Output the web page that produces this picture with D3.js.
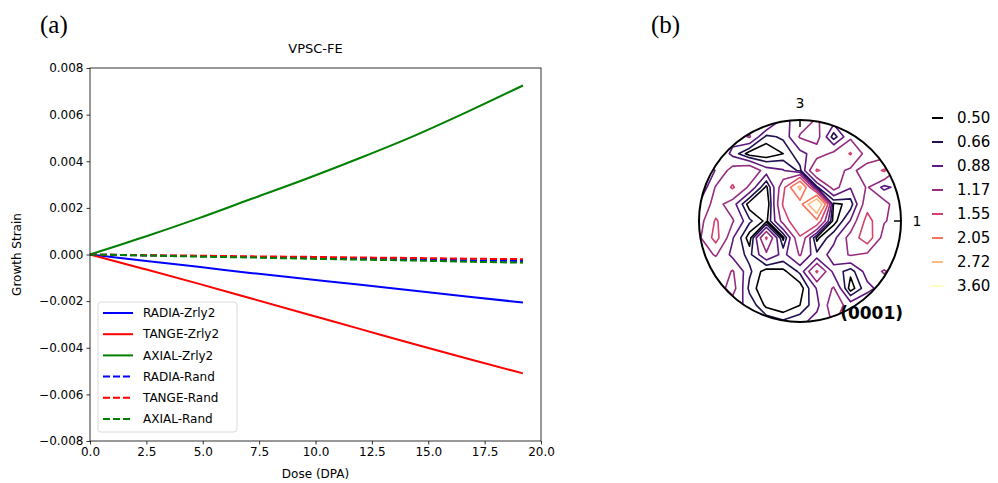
<!DOCTYPE html>
<html>
<head>
<meta charset="utf-8">
<title>VPSC-FE growth strain</title>
<script src="https://cdn.jsdelivr.net/npm/d3@7"></script>
<style>
    body { margin: 0; background: #fff; }
    text { font-family: "DejaVu Sans", sans-serif; fill: #000; }
    .axis path, .axis line { stroke: #000; stroke-width: 0.8; }
    .axis text { font-size: 12px; }
    .panel { font-family: "Liberation Serif", serif; font-size: 25px; }
</style>
</head>
<body>
<svg id="fig" width="998" height="483"></svg>
<script>
// ---- panel (a) data ----
var dose = [0, 2.4, 4.8, 7.2, 9.6, 12.0, 14.4, 16.8, 19.2];
var radiaZrly2 = [0, -0.00027, -0.00053, -0.00080, -0.00105, -0.00130, -0.00156, -0.00181, -0.00206];
var tangeZrly2 = [0, -0.00062, -0.00125, -0.00190, -0.00255, -0.00320, -0.00385, -0.00448, -0.00510];
var axialZrly2 = [0, 0.00075, 0.00155, 0.00240, 0.00325, 0.00415, 0.00510, 0.00615, 0.00725];
var radiaRand = [0, -0.00004, -0.00007, -0.00011, -0.00014, -0.00018, -0.00021, -0.00025, -0.00028];
var tangeRand = [0, -0.00003, -0.00005, -0.00008, -0.00010, -0.00013, -0.00015, -0.00018, -0.00020];
var axialRand = [0, -0.00004, -0.00009, -0.00013, -0.00018, -0.00022, -0.00026, -0.00031, -0.00035];
var seriesNames = ["RADIA-Zrly2", "TANGE-Zrly2", "AXIAL-Zrly2", "RADIA-Rand", "TANGE-Rand", "AXIAL-Rand"];
var xTicks = [0, 2.5, 5, 7.5, 10, 12.5, 15, 17.5, 20];
var yTicks = [-0.008, -0.006, -0.004, -0.002, 0, 0.002, 0.004, 0.006, 0.008];

// ---- panel (b) data: (0001) pole figure density on a 13x13 grid ----
var levels = [0.50, 0.66, 0.88, 1.17, 1.55, 2.05, 2.72, 3.60];
var levelLabels = ["0.50", "0.66", "0.88", "1.17", "1.55", "2.05", "2.72", "3.60"];
var density = [
    [1.0, 1.0, 1.0, 1.0, 1.3, 0.8, 1.0, 1.2, 1.0, 1.0, 1.0, 1.0, 1.0],
    [1.0, 1.0, 1.0, 1.2, 0.6, 0.7, 1.2, 1.3, 0.55, 1.1, 1.0, 1.0, 1.0],
    [1.0, 1.2, 0.8, 0.4, 0.35, 0.5, 0.8, 1.0, 1.25, 1.58, 1.0, 1.0, 1.0],
    [0.55, 0.9, 1.3, 1.5, 1.0, 0.9, 0.6, 1.6, 1.3, 1.1, 1.3, 1.6, 1.0],
    [0.6, 1.2, 1.6, 1.1, 0.45, 1.4, 2.9, 0.6, 1.3, 0.9, 1.2, 0.8, 1.0],
    [0.9, 1.3, 1.0, 0.4, 0.3, 1.6, 1.8, 3.7, 0.45, 0.55, 1.4, 1.3, 0.9],
    [1.0, 1.6, 1.2, 0.7, 0.45, 1.3, 2.0, 1.9, 0.4, 0.9, 1.7, 1.2, 1.0],
    [1.1, 1.7, 0.9, 0.4, 1.6, 0.45, 1.5, 0.45, 0.8, 1.3, 1.8, 1.0, 1.0],
    [1.0, 1.2, 0.8, 0.6, 1.1, 0.8, 1.2, 0.7, 1.0, 1.2, 1.1, 0.9, 1.0],
    [1.0, 0.9, 1.2, 0.7, 0.4, 0.45, 0.7, 1.6, 0.8, 0.55, 1.0, 1.2, 1.0],
    [1.0, 1.0, 1.3, 0.6, 0.35, 0.35, 0.4, 0.9, 1.2, 0.4, 0.8, 1.0, 1.0],
    [1.0, 1.0, 1.0, 0.8, 0.45, 0.35, 0.5, 0.8, 1.4, 1.0, 1.1, 1.0, 1.0],
    [1.0, 1.0, 1.0, 1.0, 0.8, 0.7, 0.8, 1.0, 1.2, 1.0, 1.0, 1.0, 1.0]
];

var svg = d3.select("#fig");

svg.append("text").attr("class", "panel").attr("x", 40).attr("y", 33).text("(a)");
svg.append("text").attr("class", "panel").attr("x", 651).attr("y", 33).text("(b)");

// ---------------- panel (a) ----------------
var plotL = 90, plotR = 541, plotT = 68, plotB = 441;
var x = d3.scaleLinear().domain([0, 20]).range([plotL, plotR]);
var y = d3.scaleLinear().domain([-0.008, 0.008]).range([plotB, plotT]);

svg.append("g").attr("class", "axis")
    .attr("transform", "translate(0," + plotB + ")")
    .call(d3.axisBottom(x).tickValues(xTicks).tickFormat(d3.format(".1f")).tickSize(3.5).tickPadding(3))
    .call(function(g) { g.select(".domain").remove(); });

svg.append("g").attr("class", "axis")
    .attr("transform", "translate(" + plotL + ",0)")
    .call(d3.axisLeft(y).tickValues(yTicks).tickFormat(d3.format(".3f")).tickSize(3.5).tickPadding(3))
    .call(function(g) { g.select(".domain").remove(); });

svg.append("text").attr("x", (plotL + plotR) / 2).attr("y", 53)
    .attr("text-anchor", "middle").style("font-size", "13px").text("VPSC-FE");
svg.append("text").attr("x", (plotL + plotR) / 2).attr("y", 478)
    .attr("text-anchor", "middle").style("font-size", "12px").text("Dose (DPA)");
svg.append("text").attr("transform", "translate(21," + ((plotT + plotB) / 2) + ") rotate(-90)")
    .attr("text-anchor", "middle").style("font-size", "12px").text("Growth Strain");

var series = [
    { name: seriesNames[0], values: radiaZrly2, color: "#0000ff", dash: null },
    { name: seriesNames[1], values: tangeZrly2, color: "#ff0000", dash: null },
    { name: seriesNames[2], values: axialZrly2, color: "#008000", dash: null },
    { name: seriesNames[3], values: radiaRand, color: "#0000ff", dash: "7,3" },
    { name: seriesNames[4], values: tangeRand, color: "#ff0000", dash: "7,3" },
    { name: seriesNames[5], values: axialRand, color: "#008000", dash: "7,3" }
];

var line = d3.line()
    .curve(d3.curveMonotoneX)
    .x(function(d, i) { return x(dose[i]); })
    .y(function(d) { return y(d); });

svg.append("g").selectAll("path")
    .data(series)
    .enter().append("path")
    .attr("d", function(s) { return line(s.values); })
    .attr("fill", "none")
    .attr("stroke", function(s) { return s.color; })
    .attr("stroke-width", 2)
    .attr("stroke-dasharray", function(s) { return s.dash; });

svg.append("rect")
    .attr("x", plotL).attr("y", plotT)
    .attr("width", plotR - plotL).attr("height", plotB - plotT)
    .attr("fill", "none").attr("stroke", "#000").attr("stroke-width", 0.8);

// legend
var lg = svg.append("g").attr("transform", "translate(98,302)");
lg.append("rect").attr("width", 139).attr("height", 130).attr("rx", 3)
    .attr("fill", "#fff").attr("fill-opacity", 0.8)
    .attr("stroke", "#d0d0d0").attr("stroke-width", 0.8);
var item = lg.selectAll("g.item").data(series).enter().append("g")
    .attr("class", "item")
    .attr("transform", function(s, i) { return "translate(0," + (11 + i * 21.2) + ")"; });
item.append("line").attr("x1", 5).attr("x2", 35)
    .attr("stroke", function(s) { return s.color; })
    .attr("stroke-width", 2)
    .attr("stroke-dasharray", function(s) { return s.dash; });
item.append("text").attr("x", 45).attr("dy", "0.35em")
    .style("font-size", "12px").text(function(s) { return s.name; });

// ---------------- panel (b) ----------------
var cx = 800, cy = 221, R = 101;
var n = density.length;
var gx = d3.scaleLinear().domain([0.5, n - 0.5]).range([cx - R, cx + R]);
var gy = d3.scaleLinear().domain([0.5, n - 0.5]).range([cy - R, cy + R]);
var color = function(i) { return d3.interpolateMagma(i / (levels.length - 1)); };

svg.append("defs").append("clipPath").attr("id", "pole")
    .append("circle").attr("cx", cx).attr("cy", cy).attr("r", R);

var contours = d3.contours().size([n, n]).thresholds(levels)(d3.merge(density));
var proj = d3.geoTransform({ point: function(px, py) { this.stream.point(gx(px), gy(py)); } });
var cpath = d3.geoPath(proj);

svg.append("g").attr("clip-path", "url(#pole)")
    .selectAll("path").data(contours).enter().append("path")
    .attr("d", cpath)
    .attr("fill", "none")
    .attr("stroke", function(c, i) { return color(i); })
    .attr("stroke-width", 1.6)
    .attr("stroke-linejoin", "round");

svg.append("circle").attr("cx", cx).attr("cy", cy).attr("r", 7).attr("fill", "#fff");

svg.append("circle").attr("cx", cx).attr("cy", cy).attr("r", R)
    .attr("fill", "none").attr("stroke", "#000").attr("stroke-width", 2);
svg.append("line").attr("x1", cx).attr("x2", cx).attr("y1", cy - R).attr("y2", cy - R + 7)
    .attr("stroke", "#000").attr("stroke-width", 1.5);
svg.append("line").attr("x1", cx + R - 7).attr("x2", cx + R).attr("y1", cy).attr("y2", cy)
    .attr("stroke", "#000").attr("stroke-width", 1.5);
svg.append("text").attr("x", cx).attr("y", cy - R - 12).attr("text-anchor", "middle")
    .style("font-size", "14px").text("3");
svg.append("text").attr("x", cx + R + 16).attr("y", cy + 5).attr("text-anchor", "middle")
    .style("font-size", "14px").text("1");
svg.append("text").attr("x", 903).attr("y", 319).attr("text-anchor", "end")
    .style("font-size", "17px").style("font-weight", "bold").text("(0001)");

var cl = svg.append("g").selectAll("g").data(levels).enter().append("g")
    .attr("transform", function(d, i) { return "translate(0," + (118 + i * 24) + ")"; });
cl.append("line").attr("x1", 932).attr("x2", 943)
    .attr("stroke", function(d, i) { return color(i); }).attr("stroke-width", 2);
cl.append("text").attr("x", 957).attr("dy", "0.35em").style("font-size", "15px")
    .text(function(d, i) { return levelLabels[i]; });
</script>
</body>
</html>
